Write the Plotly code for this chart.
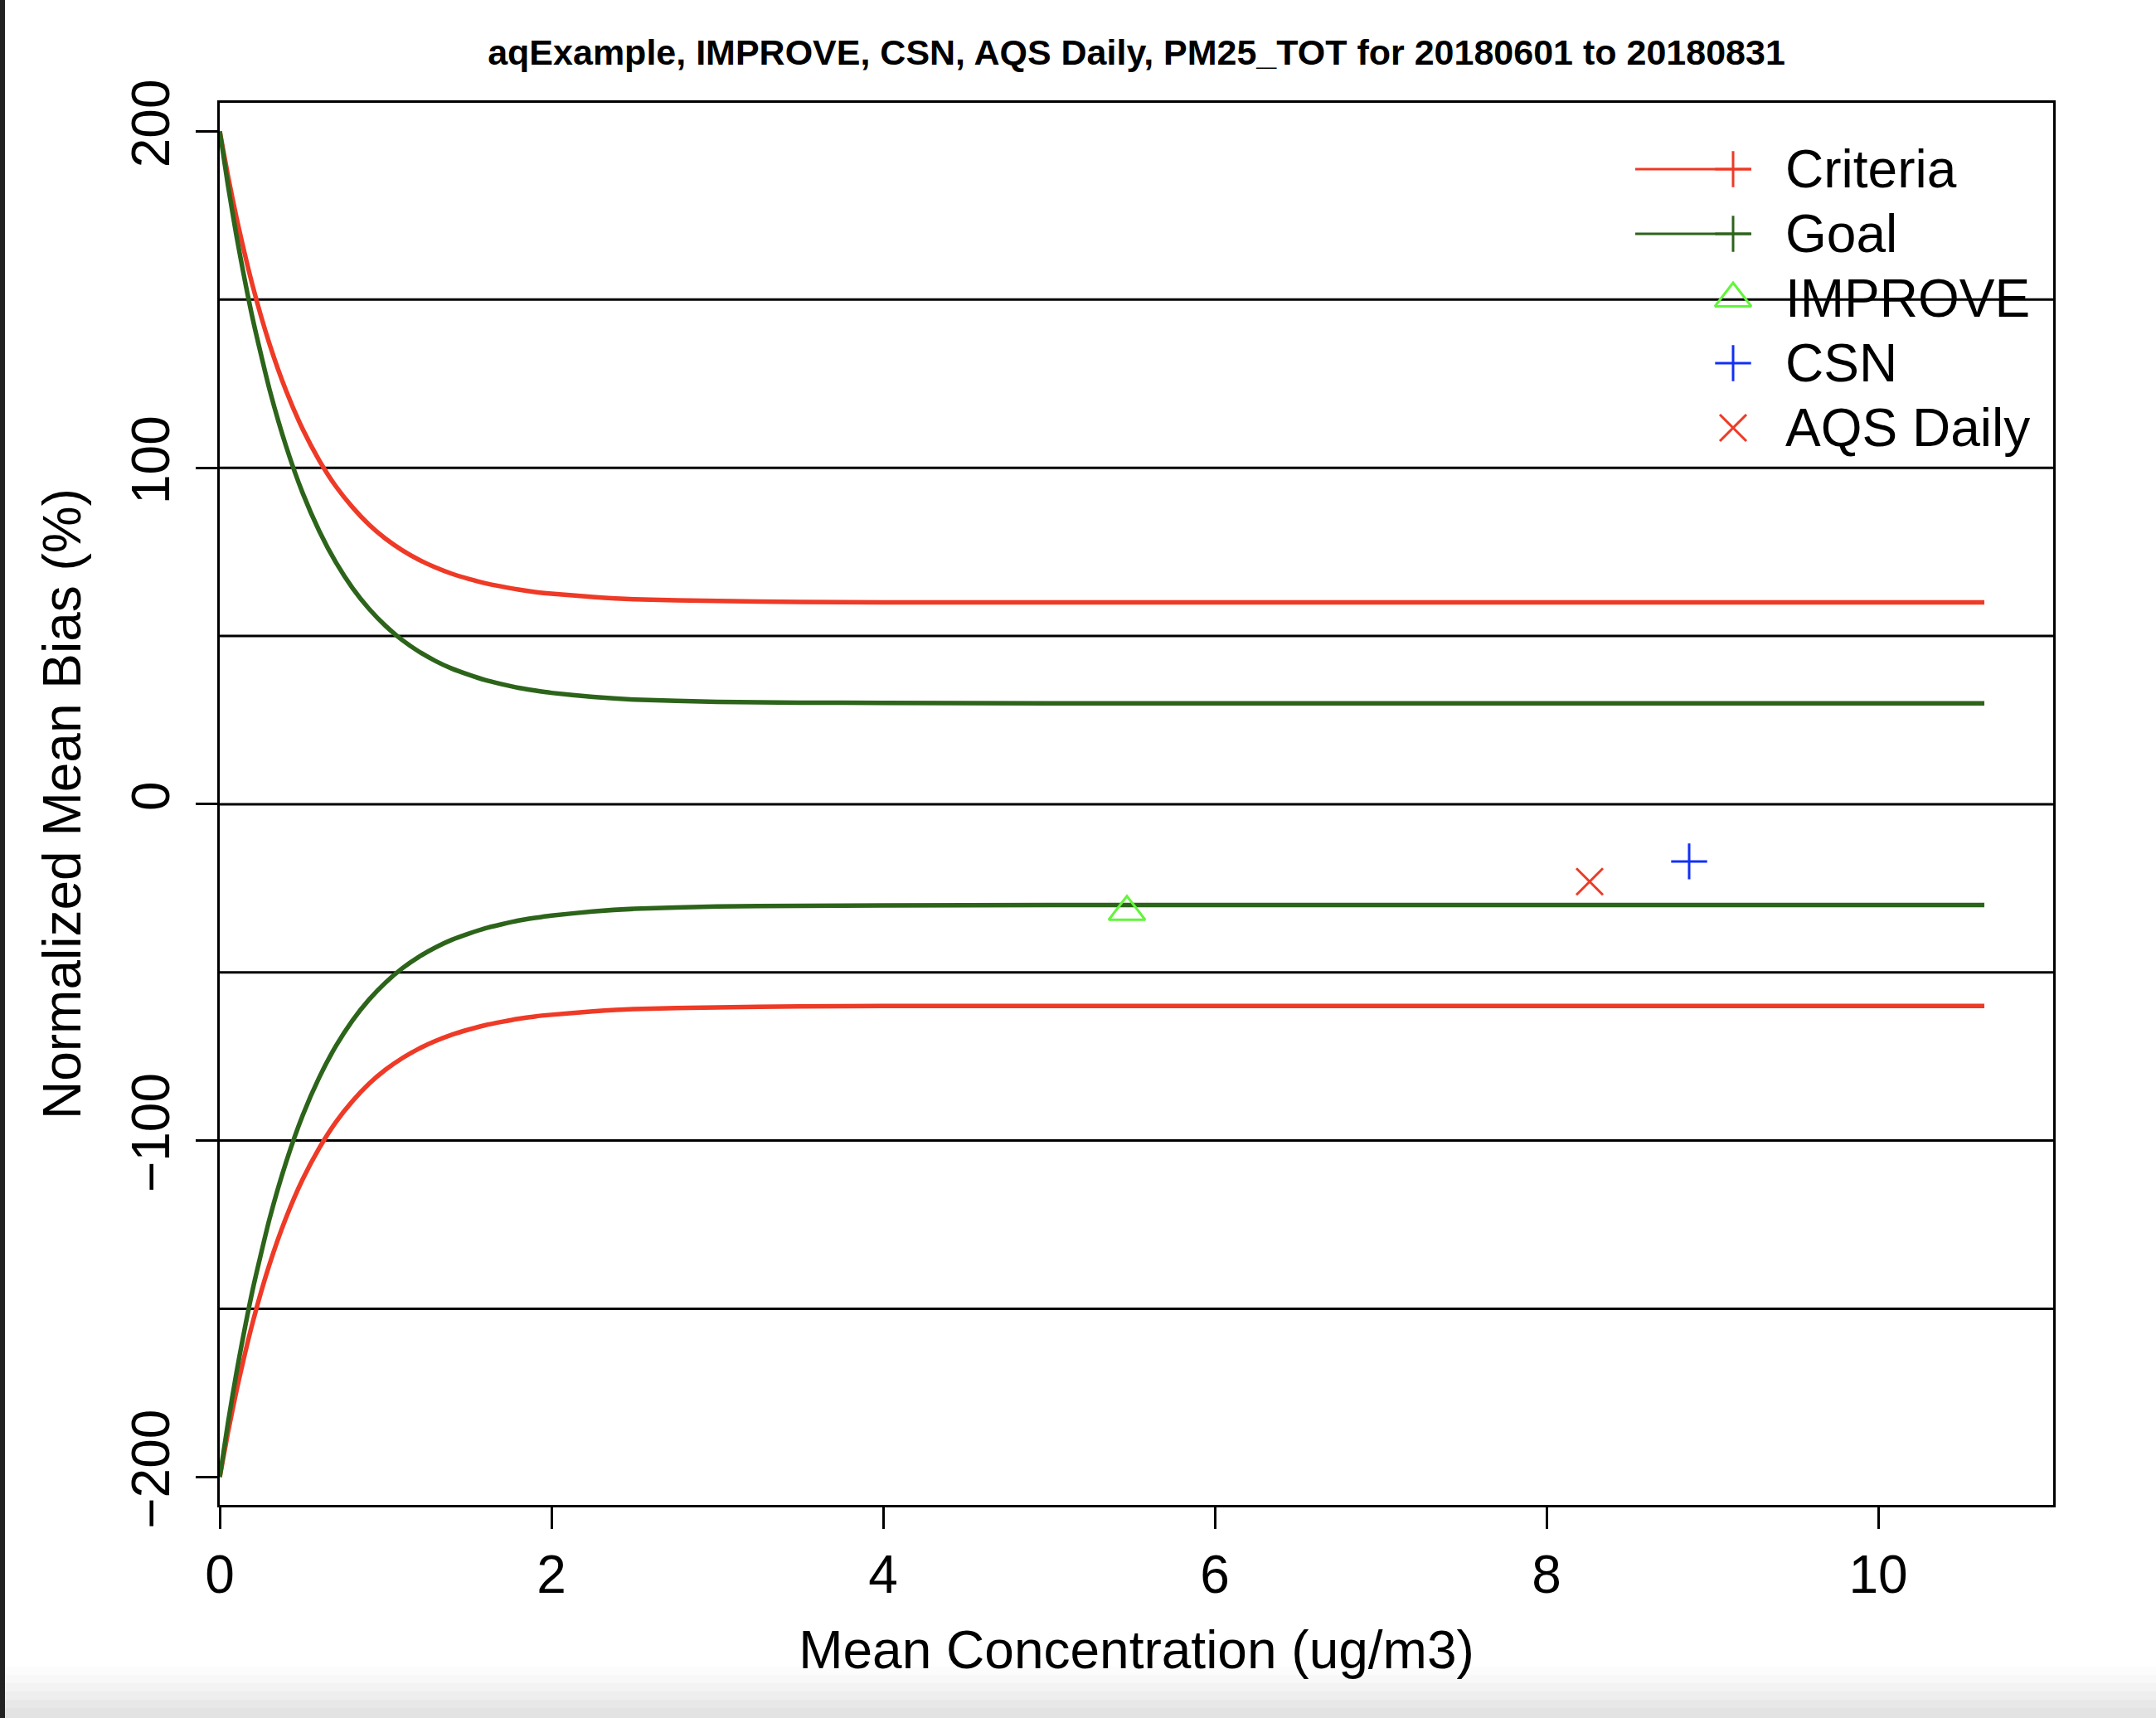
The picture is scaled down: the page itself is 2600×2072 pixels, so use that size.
import plotly.graph_objects as go

# ---------------- data ----------------
conc = [0, 0.05, 0.1, 0.2, 0.3, 0.4, 0.5, 0.6, 0.7, 0.8, 0.9, 1.0, 1.1, 1.2, 1.3, 1.4,
        1.5, 1.6, 1.7, 1.8, 1.9, 2.0, 2.25, 2.5, 3.0, 3.5, 4.0, 5.0, 6.0, 8.0, 10.64]
criteria_upper = [200, 186.7, 174.6, 153.8, 136.8, 122.9, 111.5, 102.2, 94.5, 88.3, 83.1, 78.9,
                  75.5, 72.7, 70.4, 68.5, 67.0, 65.7, 64.7, 63.8, 63.1, 62.6, 61.6, 60.9, 60.4,
                  60.1, 60.0, 60, 60, 60, 60]
criteria_lower = [-200, -186.7, -174.6, -153.8, -136.8, -122.9, -111.5, -102.2, -94.5, -88.3, -83.1, -78.9,
                  -75.5, -72.7, -70.4, -68.5, -67.0, -65.7, -64.7, -63.8, -63.1, -62.6, -61.6, -60.9, -60.4,
                  -60.1, -60.0, -60, -60, -60, -60]
goal_upper = [200, 183.8, 169.2, 144.0, 123.3, 106.4, 92.5, 81.2, 71.9, 64.3, 58.1, 53.0,
              48.8, 45.4, 42.6, 40.3, 38.5, 36.9, 35.7, 34.6, 33.8, 33.1, 31.9, 31.1, 30.4,
              30.2, 30.1, 30, 30, 30, 30]
goal_lower = [-200, -183.8, -169.2, -144.0, -123.3, -106.4, -92.5, -81.2, -71.9, -64.3, -58.1, -53.0,
              -48.8, -45.4, -42.6, -40.3, -38.5, -36.9, -35.7, -34.6, -33.8, -33.1, -31.9, -31.1, -30.4,
              -30.2, -30.1, -30, -30, -30, -30]

networks = ["IMPROVE", "CSN", "AQS Daily"]
network_conc = [5.47, 8.86, 8.26]
network_nmb = [-32, -17, -23]

ref_lines = [150, 100, 50, 0, -50, -100, -150]
x_ticks = [0, 2, 4, 6, 8, 10]
y_ticks = [-200, -100, 0, 100, 200]
legend_labels = ["Criteria", "Goal", "IMPROVE", "CSN", "AQS Daily"]

title = "aqExample, IMPROVE, CSN, AQS Daily, PM25_TOT for 20180601 to 20180831"
x_title = "Mean Concentration (ug/m3)"
y_title = "Normalized Mean Bias (%)"

# ---------------- styles ----------------
RED = "#EE3A26"
DKGREEN = "#2C641A"
LTGREEN = "#62F53C"
BLUE = "#1230F5"
FONT = "Liberation Sans, Arial, Helvetica, sans-serif"

W, H = 2600, 2072
L, R, T, B = 265, 124, 124, 257
PW, PH = W - L - R, H - T - B

fig = go.Figure()

curve_style = dict(mode="lines", line_shape="spline", showlegend=False, hoverinfo="skip")
fig.add_trace(go.Scatter(x=conc, y=criteria_upper, line=dict(color=RED, width=5.5, smoothing=0.5), **curve_style))
fig.add_trace(go.Scatter(x=conc, y=criteria_lower, line=dict(color=RED, width=5.5, smoothing=0.5), **curve_style))
fig.add_trace(go.Scatter(x=conc, y=goal_upper, line=dict(color=DKGREEN, width=5.5, smoothing=0.5), **curve_style))
fig.add_trace(go.Scatter(x=conc, y=goal_lower, line=dict(color=DKGREEN, width=5.5, smoothing=0.5), **curve_style))

marker_styles = {
    "IMPROVE": dict(symbol="triangle-up-open", size=38, color=LTGREEN, line=dict(color=LTGREEN, width=3)),
    "CSN": dict(symbol="cross-thin", size=31, color=BLUE, line=dict(color=BLUE, width=3)),
    "AQS Daily": dict(symbol="x-thin", size=32, color=RED, line=dict(color=RED, width=3)),
}
for name, cx, cy in zip(networks, network_conc, network_nmb):
    fig.add_trace(go.Scatter(x=[cx], y=[cy], mode="markers", marker=marker_styles[name],
                             showlegend=False, name=name))

# reference horizontal lines across the plot
for v in ref_lines:
    fig.add_shape(type="line", xref="paper", yref="y", x0=0, x1=1, y0=v, y1=v,
                  line=dict(color="black", width=3), layer="below")

# ---------------- custom legend (R style) on overlay axes ----------------
def px2x(px):
    return (px - L) / PW

def py2y(py):
    return (T + PH - py) / PH

row_py = [204, 282, 360, 438, 516]
line_x0, line_x1, mark_x, text_x = 1972, 2112, 2090, 2151
leg_marker = {
    "Criteria": dict(symbol="cross-thin", size=31, color=RED, line=dict(color=RED, width=3)),
    "Goal": dict(symbol="cross-thin", size=31, color=DKGREEN, line=dict(color=DKGREEN, width=3)),
    "IMPROVE": marker_styles["IMPROVE"],
    "CSN": marker_styles["CSN"],
    "AQS Daily": marker_styles["AQS Daily"],
}
leg_line = {"Criteria": RED, "Goal": DKGREEN}
for lab, py in zip(legend_labels, row_py):
    if lab in leg_line:
        fig.add_trace(go.Scatter(x=[px2x(line_x0), px2x(line_x1)], y=[py2y(py)] * 2, mode="lines",
                                 line=dict(color=leg_line[lab], width=3), xaxis="x2", yaxis="y2",
                                 showlegend=False, hoverinfo="skip"))
    fig.add_trace(go.Scatter(x=[px2x(mark_x)], y=[py2y(py)], mode="markers", marker=leg_marker[lab],
                             xaxis="x2", yaxis="y2", showlegend=False, hoverinfo="skip"))
    fig.add_annotation(x=px2x(text_x), y=py2y(py), xref="x2", yref="y2", text=lab, showarrow=False,
                       xanchor="left", yanchor="middle", font=dict(family=FONT, size=64, color="black"))

# ---------------- decorations: screenshot edges ----------------
fig.add_shape(type="rect", xref="paper", yref="paper", x0=px2x(0), x1=px2x(6), y0=py2y(H), y1=py2y(0),
              fillcolor="#222222", line=dict(width=0), layer="above")
for i, g in enumerate(["#FCFCFC", "#F8F8F8", "#F3F3F3", "#EEEEEE", "#E8E8E8", "#E3E3E3"]):
    y0 = 2010 + i * 10
    fig.add_shape(type="rect", xref="paper", yref="paper", x0=px2x(6), x1=px2x(W),
                  y0=py2y(y0 + 12), y1=py2y(y0), fillcolor=g, line=dict(width=0), layer="below")

axis_common = dict(showgrid=False, zeroline=False, showline=True, mirror=True, linecolor="black",
                   linewidth=3, ticks="outside", ticklen=26, tickwidth=3, tickcolor="black",
                   tickfont=dict(family=FONT, size=64, color="black"))

fig.update_layout(
    width=W, height=H,
    margin=dict(l=L, r=R, t=T, b=B),
    paper_bgcolor="white", plot_bgcolor="white",
    showlegend=False,
    title=dict(text="<b>" + title + "</b>", x=0.5, xref="paper", y=1 - 63 / H, yref="container",
               xanchor="center", yanchor="middle", font=dict(family=FONT, size=43, color="black")),
    xaxis=dict(range=[0, 11.055], tickvals=x_ticks, ticktext=[str(v) for v in x_ticks],
               title=dict(text=x_title, font=dict(family=FONT, size=64, color="black"), standoff=34),
               **axis_common),
    yaxis=dict(range=[-208.3, 208.5], tickvals=y_ticks,
               ticktext=[("\u2212" + str(-v)) if v < 0 else str(v) for v in y_ticks],
               tickangle=-90, ticklabelstandoff=6,
               title=dict(text=y_title, font=dict(family=FONT, size=64, color="black"), standoff=29),
               **axis_common),
    xaxis2=dict(range=[0, 1], overlaying="x", visible=False, fixedrange=True),
    yaxis2=dict(range=[0, 1], overlaying="y", visible=False, fixedrange=True),
)

fig.write_html("out.html")
